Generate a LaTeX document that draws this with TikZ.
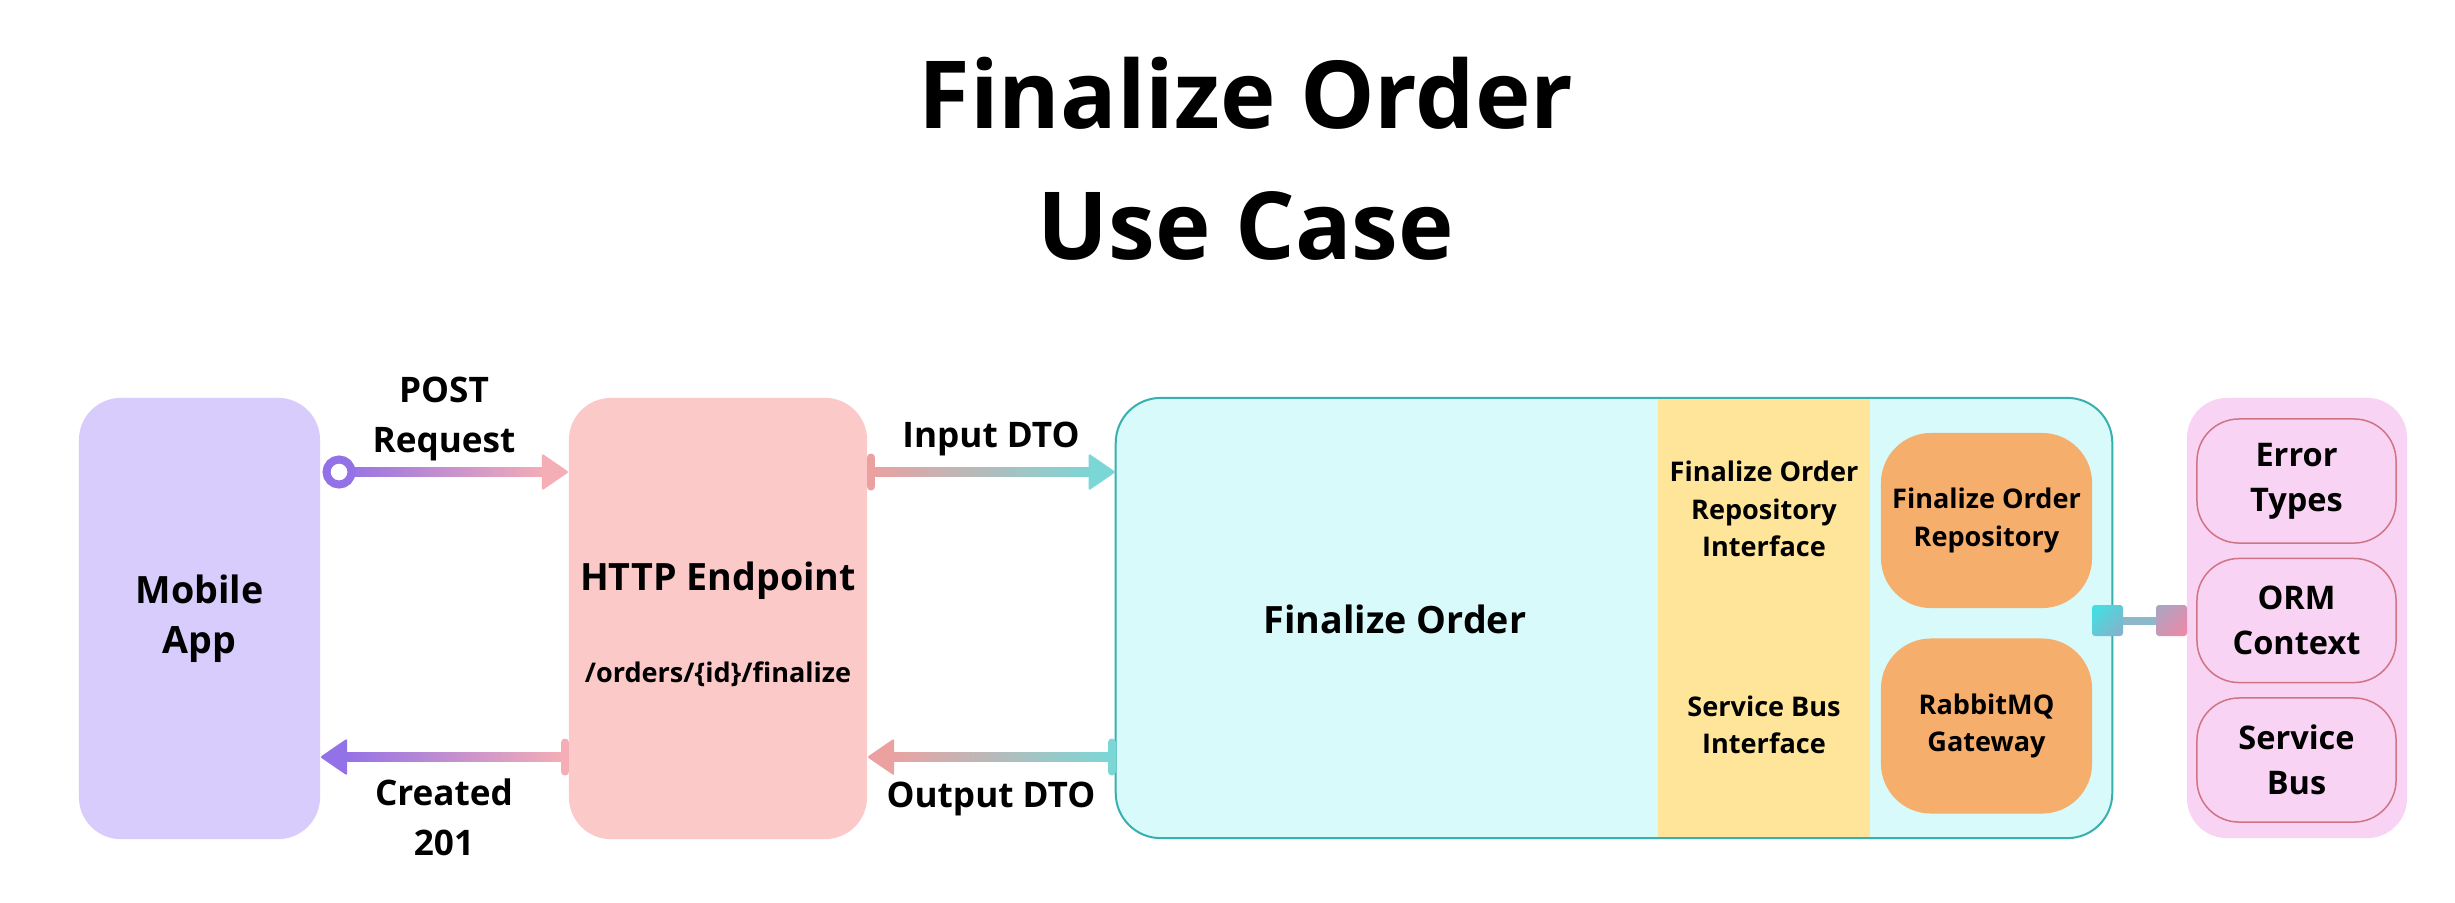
\documentclass[tikz,border=0pt]{standalone}
\usepackage{fontspec}
\setmainfont{Open Sans}
\usetikzlibrary{calc,shadings}
\definecolor{cLav}{HTML}{D8CCFC}
\definecolor{cHttp}{HTML}{FCC9C9}
\definecolor{cCy}{HTML}{D8FAFA}
\definecolor{cCyB}{HTML}{38B0B0}
\definecolor{cYel}{HTML}{FEE599}
\definecolor{cOr}{HTML}{F5AE6B}
\definecolor{cPkC}{HTML}{F9D3F3}
\definecolor{cPkE}{HTML}{CF7484}
\definecolor{cPur}{HTML}{9371E7}
\definecolor{cPkA}{HTML}{F5AEB6}
\definecolor{cPkB}{HTML}{ECA1A1}
\definecolor{cTeal}{HTML}{7BD6D6}
\definecolor{cSqA}{HTML}{3DE3E3}
\definecolor{cSqB}{HTML}{8AAEC8}
\definecolor{cSqC}{HTML}{A6A6C4}
\definecolor{cSqD}{HTML}{F586A6}
\definecolor{cBar}{HTML}{8CB8CC}
\begin{document}
\begin{tikzpicture}[x=0.01cm,y=-0.01cm,
  base/.style={rectangle, inner sep=0pt, outer sep=0pt, align=center},
  blk/.style={base, font=\fontsize{10.7}{14.2}\selectfont\bfseries},
  lbl/.style={base, font=\fontsize{10}{14.2}\selectfont\bfseries},
  sml/.style={base, font=\fontsize{7.7}{10.7}\selectfont\bfseries},
  pkt/.style={base, font=\fontsize{9.25}{12.8}\selectfont\bfseries},
  lane/.style={base, minimum width=2.41cm, minimum height=4.41cm, rounded corners=0.42cm},
  orbox/.style={blk, sml, fill=cOr, minimum width=2.11cm, minimum height=1.75cm, rounded corners=0.5cm},
  inbox/.style={pkt, draw=cPkE, line width=0.015cm, minimum width=1.99cm, minimum height=1.24cm, rounded corners=0.42cm},
  sq/.style={base, minimum size=0.31cm, rounded corners=0.03cm},
  tailbar/.style={line width=0.08cm, line cap=round},
  head/.style={rounded corners=0.02cm}]
\useasboundingbox[fill=white] (0,0) rectangle (2455,902);

% title
\node[base, font=\fontsize{26.7}{37.3}\selectfont\bfseries] (title) at (1246,159) {Finalize Order\\Use Case};

% main blocks
\node[lane, blk, fill=cLav] (mob) at (199.5,618.5) {Mobile\\App};
\node[lane, fill=cHttp, minimum width=2.98cm] (http) at (718,618.5) {};
\node[blk] (httpT) at (718,581) {HTTP Endpoint};
\node[sml] (httpP) at (718,674) {/orders/\{id\}/finalize};

\node[base, fill=cCy, draw=cCyB, line width=0.02cm, rounded corners=0.45cm,
      minimum width=9.96cm, minimum height=4.4cm] (fo) at (1614,618) {};
\node[base, fill=cYel, minimum width=2.12cm, minimum height=4.38cm] (yel) at (1764,618) {};
\node[blk] (foT) at (1395,619) {Finalize Order};
\node[sml] (yelA) at (1764,509) {Finalize Order\\Repository\\Interface};
\node[sml] (yelB) at (1764,725) {Service Bus\\Interface};
\node[orbox] (repo) at (1986.5,520.5) {Finalize Order\\Repository};
\node[orbox] (rmq) at (1986.5,726) {RabbitMQ\\Gateway};

% shared container
\node[base, fill=cPkC, minimum width=2.2cm, minimum height=4.4cm, rounded corners=0.4cm] (shared) at (2297,618) {};
\node[inbox] (err) at (2296.5,481) {Error\\Types};
\node[inbox] (orm) at (2296.5,620.5) {ORM\\Context};
\node[inbox] (bus) at (2296.5,760) {Service\\Bus};

% connector between use case and shared
\node[sq, upper left=cSqA, upper right=cSqA!50!cSqB, lower left=cSqA!50!cSqB, lower right=cSqB] (sqL) at (2107.5,620.5) {};
\node[sq, upper left=cSqC, upper right=cSqC!50!cSqD, lower left=cSqC!50!cSqD, lower right=cSqD] (sqR) at (2171.5,620.5) {};
\draw[cBar, line width=0.08cm] (sqL) -- (sqR);

% rows for the arrows
\coordinate (r1) at (0,472);
\coordinate (r2) at (0,757);

% POST Request
\shade[left color=cPur, right color=cPkA] ($(mob.east|-r1)+(19,-4.5)$) rectangle ($(http.west|-r1)+(-22,4.5)$);
\fill[head, cPkA] (http.west|-r1) -- ++(-27,-18.5) -- ++(0,37) -- cycle;
\draw[cPur, line width=0.08cm, fill=white] ($(mob.east|-r1)+(19,0)$) circle[radius=0.125cm];
\node[lbl] (postL) at (444,419) {POST\\Request};

% Created 201
\shade[left color=cPur, right color=cPkA] ($(mob.east|-r2)+(22,-4.5)$) rectangle ($(http.west|-r2)+(-4,4.5)$);
\fill[head, cPur] (mob.east|-r2) -- ++(27,-18.5) -- ++(0,37) -- cycle;
\draw[tailbar, cPkA] ($(http.west|-r2)+(-4,-14.5)$) -- ($(http.west|-r2)+(-4,14.5)$);
\node[lbl] (crL) at (444,817) {Created\\201};

% Input DTO
\shade[left color=cPkB, right color=cTeal] ($(http.east|-r1)+(4,-4.5)$) rectangle ($(fo.west|-r1)+(-22,4.5)$);
\fill[head, cTeal] (fo.west|-r1) -- ++(-27,-18.5) -- ++(0,37) -- cycle;
\draw[tailbar, cPkB] ($(http.east|-r1)+(4,-14.5)$) -- ($(http.east|-r1)+(4,14.5)$);
\node[lbl] (inL) at (991,439) {Input DTO};

% Output DTO
\shade[left color=cPkB, right color=cTeal] ($(http.east|-r2)+(22,-4.5)$) rectangle ($(fo.west|-r2)+(-4,4.5)$);
\fill[head, cPkB] (http.east|-r2) -- ++(27,-18.5) -- ++(0,37) -- cycle;
\draw[tailbar, cTeal] ($(fo.west|-r2)+(-4,-14.5)$) -- ($(fo.west|-r2)+(-4,14.5)$);
\node[lbl] (outL) at (991,799) {Output DTO};
\end{tikzpicture}
\end{document}
